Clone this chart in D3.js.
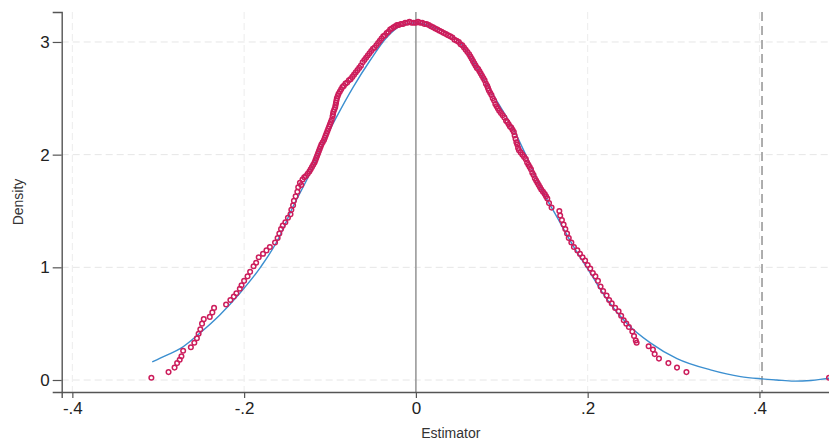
<!DOCTYPE html>
<html>
<head>
<meta charset="utf-8">
<script src="https://cdn.jsdelivr.net/npm/d3@7"></script>
<style>
  html, body { margin: 0; padding: 0; background: #fff; }
  svg { display: block; }
  text { font-family: "Liberation Sans", Arial, sans-serif; }
</style>
</head>
<body>
<svg id="chart" width="829" height="441"></svg>
<script>
// ---- data ----
const xTicks = [-0.4, -0.2, 0, 0.2, 0.4];
const xTickLabels = ["-.4", "-.2", "0", ".2", ".4"];
const yTicks = [0, 1, 2, 3];
const yTickLabels = ["0", "1", "2", "3"];
const xLines = { solid: 0, dashed: 0.403 };
const xTitle = "Estimator";
const yTitle = "Density";

// smooth density curve (blue)
const curveX = [-0.307, -0.290, -0.274, -0.251, -0.228, -0.205, -0.181, -0.161, -0.143, -0.123, -0.108, -0.092, -0.073, -0.053, -0.034, -0.018, 0.000, 0.020, 0.052, 0.075, 0.094, 0.114, 0.129, 0.145, 0.164, 0.184, 0.203, 0.223, 0.246, 0.273, 0.304, 0.343, 0.378, 0.403, 0.420, 0.440, 0.460, 0.481, 0.494];
const curveY = [0.16, 0.22, 0.28, 0.42, 0.58, 0.77, 1.00, 1.24, 1.54, 1.84, 2.10, 2.34, 2.60, 2.84, 3.04, 3.14, 3.17, 3.13, 2.99, 2.72, 2.48, 2.22, 1.98, 1.71, 1.45, 1.18, 0.95, 0.71, 0.50, 0.33, 0.19, 0.09, 0.03, 0.01, 0.00, -0.01, -0.005, 0.015, 0.02];

// observed points (red circles)
const pointX = [-0.308, -0.288, -0.281, -0.278, -0.275, -0.273, -0.271, -0.262, -0.258, -0.255, -0.253, -0.251, -0.249, -0.247, -0.240, -0.237, -0.235, -0.221, -0.216, -0.212, -0.209, -0.205, -0.203, -0.200, -0.196, -0.193, -0.189, -0.186, -0.183, -0.178, -0.174, -0.170, -0.164, -0.161, -0.159, -0.157, -0.155, -0.152, -0.149, -0.146, -0.145, -0.143, -0.142, -0.140, -0.138, -0.137, -0.135, -0.132, -0.128, -0.124, -0.121, -0.118, -0.116, -0.114, -0.112, -0.110, -0.107, -0.105, -0.103, -0.101, -0.099, -0.097, -0.096, -0.094, -0.093, -0.092, -0.090, -0.087, -0.084, -0.080, -0.076, -0.072, -0.068, -0.064, -0.060, -0.056, -0.052, -0.048, -0.044, -0.040, -0.036, -0.032, -0.028, -0.024, -0.020, -0.015, -0.010, -0.005, 0.000, 0.005, 0.010, 0.015, 0.020, 0.025, 0.030, 0.035, 0.040, 0.045, 0.050, 0.054, 0.058, 0.062, 0.065, 0.068, 0.071, 0.074, 0.077, 0.080, 0.083, 0.085, 0.088, 0.091, 0.094, 0.097, 0.101, 0.105, 0.108, 0.111, 0.114, 0.116, 0.118, 0.120, 0.124, 0.128, 0.131, 0.134, 0.137, 0.140, 0.143, 0.146, 0.150, 0.153, 0.155, 0.158, 0.167, 0.168, 0.170, 0.172, 0.174, 0.176, 0.178, 0.181, 0.184, 0.188, 0.191, 0.194, 0.197, 0.200, 0.203, 0.206, 0.209, 0.212, 0.215, 0.218, 0.222, 0.225, 0.228, 0.232, 0.236, 0.239, 0.242, 0.245, 0.248, 0.252, 0.254, 0.256, 0.257, 0.271, 0.276, 0.278, 0.283, 0.294, 0.304, 0.315, 0.481];
const pointY = [0.02, 0.07, 0.11, 0.15, 0.18, 0.21, 0.26, 0.29, 0.33, 0.37, 0.41, 0.45, 0.50, 0.54, 0.56, 0.60, 0.64, 0.67, 0.71, 0.74, 0.77, 0.81, 0.84, 0.88, 0.92, 0.96, 1.01, 1.04, 1.09, 1.12, 1.15, 1.18, 1.22, 1.26, 1.30, 1.34, 1.37, 1.40, 1.44, 1.47, 1.51, 1.55, 1.59, 1.63, 1.67, 1.71, 1.75, 1.78, 1.81, 1.85, 1.89, 1.93, 1.97, 2.01, 2.05, 2.09, 2.13, 2.17, 2.21, 2.25, 2.29, 2.34, 2.38, 2.42, 2.46, 2.50, 2.54, 2.58, 2.61, 2.64, 2.67, 2.71, 2.75, 2.79, 2.84, 2.88, 2.92, 2.95, 2.99, 3.03, 3.06, 3.09, 3.12, 3.14, 3.15, 3.16, 3.17, 3.17, 3.17, 3.17, 3.16, 3.15, 3.13, 3.11, 3.09, 3.07, 3.05, 3.02, 3.00, 2.97, 2.93, 2.89, 2.85, 2.81, 2.77, 2.74, 2.70, 2.66, 2.61, 2.57, 2.53, 2.48, 2.43, 2.39, 2.35, 2.30, 2.27, 2.24, 2.20, 2.14, 2.09, 2.04, 2.00, 1.96, 1.91, 1.87, 1.82, 1.77, 1.73, 1.69, 1.65, 1.61, 1.57, 1.53, 1.50, 1.46, 1.42, 1.38, 1.34, 1.30, 1.26, 1.22, 1.18, 1.15, 1.12, 1.09, 1.06, 1.02, 0.99, 0.95, 0.92, 0.88, 0.83, 0.79, 0.75, 0.71, 0.68, 0.64, 0.61, 0.57, 0.53, 0.50, 0.47, 0.43, 0.39, 0.35, 0.33, 0.30, 0.27, 0.23, 0.19, 0.15, 0.11, 0.07, 0.02];

// further observed points in the dense central band
const densePointX = [-0.1335, -0.130, -0.126, -0.1225, -0.1195, -0.117, -0.115, -0.113, -0.111, -0.1085, -0.106, -0.104, -0.102, -0.100, -0.098, -0.0965, -0.095, -0.0935, -0.0925, -0.091, -0.0885, -0.0855, -0.082, -0.078, -0.074, -0.070, -0.066, -0.062, -0.058, -0.054, -0.050, -0.046, -0.042, -0.038, -0.034, -0.030, -0.026, -0.022, -0.0175, -0.0125, -0.0075, -0.0025, 0.0025, 0.0075, 0.0125, 0.0175, 0.0225, 0.0275, 0.0325, 0.0375, 0.0425, 0.0475, 0.052, 0.056, 0.060, 0.0635, 0.0665, 0.0695, 0.0725, 0.0755, 0.0785, 0.0815, 0.084, 0.0865, 0.0895, 0.0925, 0.0955, 0.099, 0.103, 0.1065, 0.1095, 0.1125, 0.115, 0.117, 0.119, 0.122, 0.126, 0.1295, 0.1325, 0.1355, 0.1385, 0.1415, 0.1445, 0.148, 0.1515];
const densePointY = [1.73, 1.80, 1.83, 1.87, 1.91, 1.95, 1.99, 2.03, 2.07, 2.11, 2.15, 2.19, 2.23, 2.27, 2.31, 2.36, 2.40, 2.44, 2.48, 2.52, 2.56, 2.60, 2.63, 2.66, 2.69, 2.73, 2.77, 2.82, 2.86, 2.90, 2.94, 2.97, 3.01, 3.05, 3.08, 3.11, 3.13, 3.15, 3.16, 3.17, 3.18, 3.17, 3.18, 3.17, 3.16, 3.14, 3.12, 3.10, 3.08, 3.06, 3.04, 3.01, 2.98, 2.95, 2.91, 2.87, 2.83, 2.79, 2.76, 2.72, 2.68, 2.63, 2.59, 2.55, 2.50, 2.45, 2.41, 2.37, 2.33, 2.29, 2.25, 2.22, 2.17, 2.11, 2.06, 2.02, 1.98, 1.93, 1.89, 1.84, 1.79, 1.75, 1.71, 1.67, 1.63];

// ---- layout ----
const plot = { left: 61.7, right: 840, top: 12, bottom: 392 };
const xDomain = [-0.4124, 0.4938];
const yDomain = [-0.1065, 3.266];

const svg = d3.select("#chart");
const x = d3.scaleLinear().domain(xDomain).range([plot.left, plot.right]);
const y = d3.scaleLinear().domain(yDomain).range([plot.bottom, plot.top]);

// grid
const grid = svg.append("g");
grid.selectAll("line.hg").data(yTicks).join("line")
  .attr("x1", plot.left).attr("x2", plot.right)
  .attr("y1", d => y(d)).attr("y2", d => y(d))
  .attr("stroke", "#e6e6e6").attr("stroke-width", 1).attr("stroke-dasharray", "7,4");
grid.selectAll("line.vg").data(xTicks.filter(d => d !== 0)).join("line")
  .attr("x1", d => x(d)).attr("x2", d => x(d))
  .attr("y1", plot.top).attr("y2", plot.bottom)
  .attr("stroke", "#ececec").attr("stroke-width", 1).attr("stroke-dasharray", "7,4");

// reference lines
svg.append("line")
  .attr("x1", x(xLines.solid)).attr("x2", x(xLines.solid))
  .attr("y1", plot.top).attr("y2", plot.bottom)
  .attr("stroke", "#9a9a9a").attr("stroke-width", 1.6);
svg.append("line")
  .attr("x1", x(xLines.dashed)).attr("x2", x(xLines.dashed))
  .attr("y1", plot.top).attr("y2", plot.bottom)
  .attr("stroke", "#9a9a9a").attr("stroke-width", 1.6).attr("stroke-dasharray", "9,5");

// curve (drawn under the points)
const curve = curveX.map((d, i) => [d, curveY[i]]);
svg.append("path").datum(curve)
  .attr("d", d3.line().x(d => x(d[0])).y(d => y(d[1])).curve(d3.curveMonotoneX))
  .attr("fill", "none").attr("stroke", "#3b8fd0").attr("stroke-width", 1.4);

// points
const pts = pointX.map((d, i) => [d, pointY[i]])
  .concat(densePointX.map((d, i) => [d, densePointY[i]]));
svg.append("g").selectAll("circle").data(pts).join("circle")
  .attr("cx", d => x(d[0])).attr("cy", d => y(d[1])).attr("r", 2.3)
  .attr("fill", "none").attr("stroke", "#cc1d5c").attr("stroke-width", 1.5);

// axes
const xAxis = svg.append("g").attr("transform", `translate(0,${plot.bottom})`)
  .call(d3.axisBottom(x).tickValues(xTicks).tickFormat((d, i) => xTickLabels[i]).tickSizeOuter(0).tickSize(6).tickPadding(4));
const yAxis = svg.append("g").attr("transform", `translate(${plot.left},0)`)
  .call(d3.axisLeft(y).tickValues(yTicks).tickFormat((d, i) => yTickLabels[i]).tickSizeOuter(0).tickSize(9).tickPadding(3));
[xAxis, yAxis].forEach(a => {
  a.select(".domain").attr("stroke", "#555").attr("stroke-width", 1.4);
  a.selectAll(".tick line").attr("stroke", "#555").attr("stroke-width", 1.2);
  a.selectAll(".tick text").attr("fill", "#222").style("font-size", "17px")
    .style("font-family", '"Liberation Sans", Arial, sans-serif');
});

// titles
svg.append("text").attr("x", (plot.left + plot.right) / 2).attr("y", 438)
  .attr("text-anchor", "middle").attr("fill", "#333").style("font-size", "14px").text(xTitle);
svg.append("text").attr("transform", `translate(23,${(plot.top + plot.bottom) / 2}) rotate(-90)`)
  .attr("text-anchor", "middle").attr("fill", "#333").style("font-size", "14px").text(yTitle);
</script>
</body>
</html>
